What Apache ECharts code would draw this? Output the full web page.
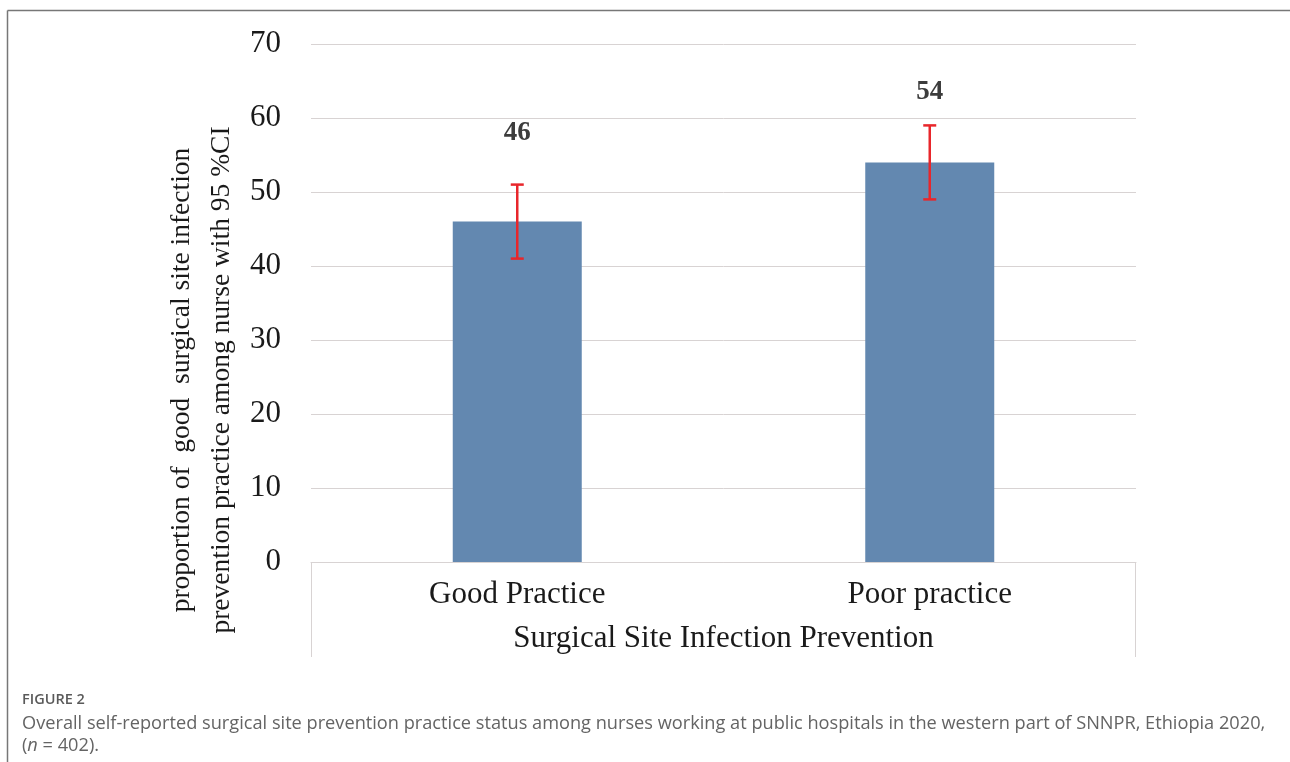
<!DOCTYPE html>
<html>
<head>
<meta charset="utf-8">
<script src="https://cdn.jsdelivr.net/npm/echarts@6/dist/echarts.min.js"></script>
<style>
html,body{margin:0;padding:0;background:#fff;}
#chart{width:1290px;height:762px;}
</style>
</head>
<body>
<div id="chart"></div>
<script>
const categories = ['Good Practice', 'Poor practice'];
const values = [46, 54];
const ciLow = [41, 49];
const ciHigh = [51, 59];
const yTicks = [0, 10, 20, 30, 40, 50, 60, 70];
const labelDistance = [75, 57];

const serif = '"Liberation Serif", "Times New Roman", serif';
const chart = echarts.init(document.getElementById('chart'));

const GRID = {left: 311, right: 154, top: 44, bottom: 200};

const option = {
  animation: false,
  backgroundColor: '#fff',
  title: [
    {
      text: 'FIGURE 2', left: 17, top: 687,
      textStyle: {fontFamily: '"Open Sans", sans-serif', fontSize: 14.5, fontWeight: 600, color: '#5a5a5a'}
    },
    {
      text: 'Overall self-reported surgical site prevention practice status among nurses working at public hospitals in the western part of SNNPR, Ethiopia 2020,\n({i|n} = 402).',
      left: 17, top: 708,
      textStyle: {
        fontFamily: '"Open Sans", sans-serif', fontSize: 18.2, fontWeight: 400, color: '#646464', lineHeight: 22,
        rich: {i: {fontStyle: 'italic', fontFamily: '"Open Sans", sans-serif', fontSize: 18.2, color: '#646464', lineHeight: 22}}
      }
    }
  ],
  grid: GRID,
  xAxis: {
    type: 'category',
    data: categories,
    axisLine: {show: true, lineStyle: {color: '#d8d3d3', width: 1}},
    axisTick: {show: false},
    axisLabel: {fontFamily: serif, fontSize: 31, color: '#1a1a1a', margin: 17},
    name: 'Surgical Site Infection Prevention',
    nameLocation: 'middle',
    nameGap: 61,
    nameTextStyle: {fontFamily: serif, fontSize: 31, color: '#1a1a1a'}
  },
  yAxis: {
    type: 'value',
    min: 0, max: 70, interval: 10,
    axisLine: {show: false},
    axisTick: {show: false},
    axisLabel: {fontFamily: serif, fontSize: 31, color: '#1a1a1a', margin: 30, padding: [4, 0, 0, 0],
      formatter: v => yTicks.indexOf(v) >= 0 ? String(v) : ''},
    splitLine: {lineStyle: {color: '#d8d3d3', width: 1}}
  },
  series: [
    {
      type: 'bar',
      barWidth: 129,
      itemStyle: {color: '#6388b0'},
      data: values.map((v, i) => ({
        value: v,
        label: {
          show: true, position: 'top', distance: labelDistance[i],
          fontFamily: serif, fontSize: 27, fontWeight: 'bold', color: '#3c3c3c'
        }
      })),
      z: 2
    },
    {
      type: 'custom',
      data: values.map((v, i) => [i, ciLow[i], ciHigh[i]]),
      renderItem: function (params, api) {
        const x = api.value(0);
        const lo = api.coord([x, api.value(1)]);
        const hi = api.coord([x, api.value(2)]);
        const hw = 6.5;
        const style = {stroke: '#e8262b', lineWidth: 2.5};
        return {
          type: 'group',
          children: [
            {type: 'line', shape: {x1: lo[0], y1: lo[1], x2: hi[0], y2: hi[1]}, style: style},
            {type: 'line', shape: {x1: lo[0] - hw, y1: lo[1], x2: lo[0] + hw, y2: lo[1]}, style: style},
            {type: 'line', shape: {x1: hi[0] - hw, y1: hi[1], x2: hi[0] + hw, y2: hi[1]}, style: style}
          ]
        };
      },
      z: 5
    }
  ]
};
chart.setOption(option);

// decorative frame lines and rotated y-axis title
const leftX = GRID.left, rightX = 1290 - GRID.right;
const baseY = chart.convertToPixel({yAxisIndex: 0}, 0);
chart.setOption({
  graphic: [
    {type: 'line', shape: {x1: 7.5, y1: 10.5, x2: 1290, y2: 10.5}, style: {stroke: '#777', lineWidth: 1.5}, silent: true},
    {type: 'line', shape: {x1: 7.5, y1: 10.5, x2: 7.5, y2: 762}, style: {stroke: '#777', lineWidth: 1.5}, silent: true},
    {type: 'line', shape: {x1: leftX + 0.5, y1: baseY, x2: leftX + 0.5, y2: baseY + 95}, style: {stroke: '#d8d3d3', lineWidth: 1}, silent: true},
    {type: 'line', shape: {x1: rightX - 0.5, y1: baseY, x2: rightX - 0.5, y2: baseY + 95}, style: {stroke: '#d8d3d3', lineWidth: 1}, silent: true},
    {
      type: 'text', x: 202, y: 380, rotation: Math.PI / 2,
      style: {
        text: 'proportion of  good  surgical site infection\nprevention practice among nurse with 95 %CI',
        fontFamily: serif, fontSize: 27.5, fill: '#1a1a1a', lineHeight: 40,
        align: 'center', verticalAlign: 'middle'
      }
    }
  ]
});
</script>
</body>
</html>
